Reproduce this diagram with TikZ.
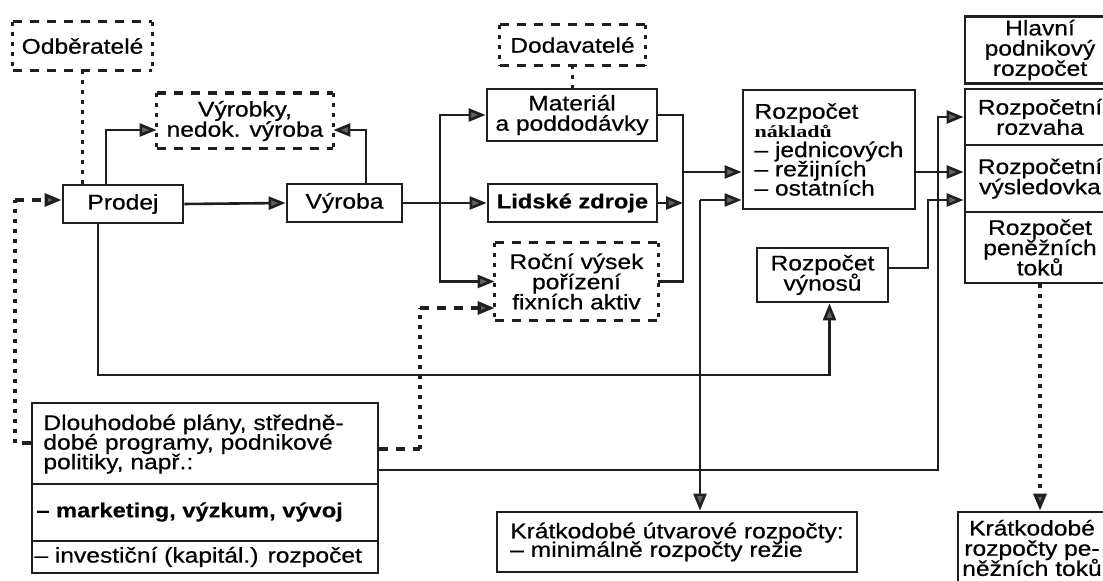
\documentclass[tikz,border=0pt]{standalone}
\usepackage{fontspec}
\setmainfont[FakeStretch=1.16, UprightFeatures={FakeBold=0.6}, BoldFeatures={FakeBold=0.4}]{Liberation Sans}
\newfontfamily\serifbold[FakeStretch=1.3]{Liberation Serif}
\usetikzlibrary{arrows.meta,calc}
\newcommand\fsz[2]{\fontsize{#1}{#2}\selectfont\lineskiplimit=-\maxdimen}
\newcommand\mfs{\fsz{10.6}{10.1}}
\newcommand\bfs{\fsz{10.2}{10.1}\bfseries}
\begin{document}
\begin{tikzpicture}[x=0.5pt,y=-0.5pt,
  box/.style={draw=black!88, line width=1.4pt, inner sep=0pt, align=center, font=\mfs},
  dbox/.style={inner sep=0pt, align=center, font=\mfs},
  ln/.style={line width=1.3pt, draw=black!88},
  tip/.style={-{Triangle[length=8.5pt,width=6.5pt,fill=black!62]}},
  arr/.style={ln, tip},
  dashh/.style={line width=1.6pt, draw=black!88, dash pattern=on 4.5pt off 4pt},
  dotv/.style={line width=1.6pt, draw=black!88, dash pattern=on 2pt off 3pt}]
\useasboundingbox (0,0) rectangle (1103,581);
\clip (0,0) rectangle (1103,581);
% ---------- nodes ----------
\node[dbox, minimum width=69.5pt, minimum height=24pt] (odb) at (82.5,46) {Odběratelé};
\node[dbox, minimum width=88pt, minimum height=27.5pt] (vyrobky) at (245,121) {Výrobky,\\nedok. výroba};
\node[box, minimum width=60pt, minimum height=19pt] (prodej) at (123,204) {Prodej};
\node[box, minimum width=57.5pt, minimum height=19pt] (vyroba) at (344.5,203) {Výroba};
\node[dbox, minimum width=72.5pt, minimum height=20pt] (dod) at (572.5,45) {Dodavatelé};
\node[box, minimum width=85pt, minimum height=26pt] (mat) at (572,115) {Materiál\\a poddodávky};
\node[box, minimum width=84.5pt, minimum height=19pt, font=\bfs] (lidske) at (572.5,203) {Lidské zdroje};
\node[dbox, minimum width=81.5pt, minimum height=38.5pt] (rocni) at (576.5,281.5) {Roční výsek\\pořízení\\fixních aktiv};
\node[box, minimum width=86pt, minimum height=59.5pt, align=left, font=\fsz{10.6}{9.6}] (naklady) at (829,149.5)
  {Rozpočet\\{\serifbold\bfseries\fsz{8.5}{9.6}nákladů}\\– jednicových\\– režijních\\– ostatních};
\node[box, minimum width=65.5pt, minimum height=27pt] (vynosu) at (822.5,275) {Rozpočet\\výnosů};
\node[box, minimum width=75pt, minimum height=33.5pt] (hlavni) at (1040,50) {Hlavní\\podnikový\\rozpočet};
\node[box, minimum width=75pt, minimum height=28pt] (rozvaha) at (1040,117) {Rozpočetní\\rozvaha};
\node[box, minimum width=75pt, minimum height=33.5pt] (vysled) at (1040,178.5) {Rozpočetní\\výsledovka};
\node[box, minimum width=75pt, minimum height=35.5pt] (toky) at (1040,247.5) {Rozpočet\\peněžních\\toků};
\node[box, minimum width=180pt, minimum height=30pt, align=left, font=\fsz{10.6}{9.3}] (kutv) at (677,542)
  {Krátkodobé útvarové rozpočty:\\– minimálně rozpočty režie};
\node[box, minimum width=74pt, minimum height=36pt] (ktoky) at (1032,548) {Krátkodobé\\rozpočty pe-\\něžních toků};
\node[box, minimum width=173pt, minimum height=85pt] (dlouho) at (205,488) {};
\draw[line width=1.4pt, draw=black!88] (dlouho.west |- 0,484) -- (dlouho.east |- 0,484)
  (dlouho.west |- 0,541) -- (dlouho.east |- 0,541);
\node[dbox, anchor=west, align=left, font=\fsz{10.6}{9.8}] (dl1) at (43,444)
  {Dlouhodobé plány, středně-\\dobé programy, podnikové\\politiky, např.:};
\node[dbox, anchor=west, font=\bfs] (dl2) at (36,512) {– marketing, výzkum, vývoj};
\node[dbox, anchor=west, font=\mfs] (dl3) at (34,557) {– investiční (kapitál.) rozpočet};
% dashed/dotted borders
\foreach \n in {odb,vyrobky,dod,rocni}{
  \draw[dashh] (\n.north west) -- (\n.north east) (\n.south west) -- (\n.south east);
  \draw[dotv] (\n.north west) -- (\n.south west) (\n.north east) -- (\n.south east);
}
% ---------- bus coordinates ----------
\coordinate (bA) at (440,0);
\coordinate (bB) at (683,0);
\coordinate (bC) at (700,0);
\coordinate (bD) at (938,0);
\coordinate (bE) at (928,0);
\coordinate (bL) at (15,0);
\coordinate (bM) at (420,0);
\coordinate (yP) at (0,375);
\coordinate (yQ) at (0,470);
\coordinate (yL) at (0,443);
\coordinate (yR) at (0,449);
\coordinate (nk1) at ($(naklady.west)+(0,22.5)$);
\coordinate (nk2) at ($(naklady.west)+(0,50.5)$);
\coordinate (ps) at ($(prodej.south)+(-25,0)$);
\coordinate (vs) at ($(vynosu.south)+(7,0)$);
\coordinate (ve) at ($(vynosu.east)+(0,-7)$);
\coordinate (pl) at ($(prodej.west)+(0,-4)$);
\coordinate (r2) at ($(rocni.west)+(0,26.5)$);
\coordinate (tk) at ($(toky.south)+(0,0)$);
% ---------- connectors ----------
\draw[dotv] (odb.south) -- (odb.south |- prodej.north);
\draw[dotv] (dod.south) -- (dod.south |- mat.north);
\draw[arr] ($(prodej.north)+(-17,0)$) |- ($(vyrobky.west)+(0,9)$);
\draw[arr] ($(vyroba.north)+(21.5,0)$) |- ($(vyrobky.east)+(0,9)$);
\draw[arr] (prodej.east) -- (vyroba.west);
\draw[ln] (vyroba.east) -- (vyroba.east -| bA);
\draw[arr] (vyroba.east -| bA) |- (mat.west);
\draw[arr] (vyroba.east -| bA) |- (rocni.west);
\draw[arr] (vyroba.east -| bA) -- (lidske.west);
\draw[ln] (mat.east) -| (bB |- rocni.east) -- (rocni.east);
\draw[arr] (lidske.east) -- (lidske.east -| bB);
\draw[arr] (bB |- nk1) -- (nk1);
\draw[arr] (ps) |- (vs |- yP) -- (vs);
\draw[arr] (bC |- nk2) -- (nk2);
\draw[arr] (bC |- nk2) -- (bC |- kutv.north);
\draw[arr] (dlouho.east |- yQ) -| (bD |- rozvaha.west) -- (rozvaha.west);
\draw[arr] (naklady.east |- nk1) -- (vysled.west |- nk1);
\draw[arr] (ve) -| (bE |- nk2) -- (vysled.west |- nk2);
\draw[dotv, tip] (tk) -- (tk |- ktoky.north);
\draw[dashh] (dlouho.west |- yL) -- (bL |- yL);
\draw[dotv] (bL |- yL) -- (bL |- pl);
\draw[dashh, tip] (bL |- pl) -- (pl);
\draw[dashh] (dlouho.east |- yR) -- (bM |- yR);
\draw[dotv] (bM |- yR) -- (bM |- r2);
\draw[dashh, tip] (bM |- r2) -- (r2);
\end{tikzpicture}
\end{document}
